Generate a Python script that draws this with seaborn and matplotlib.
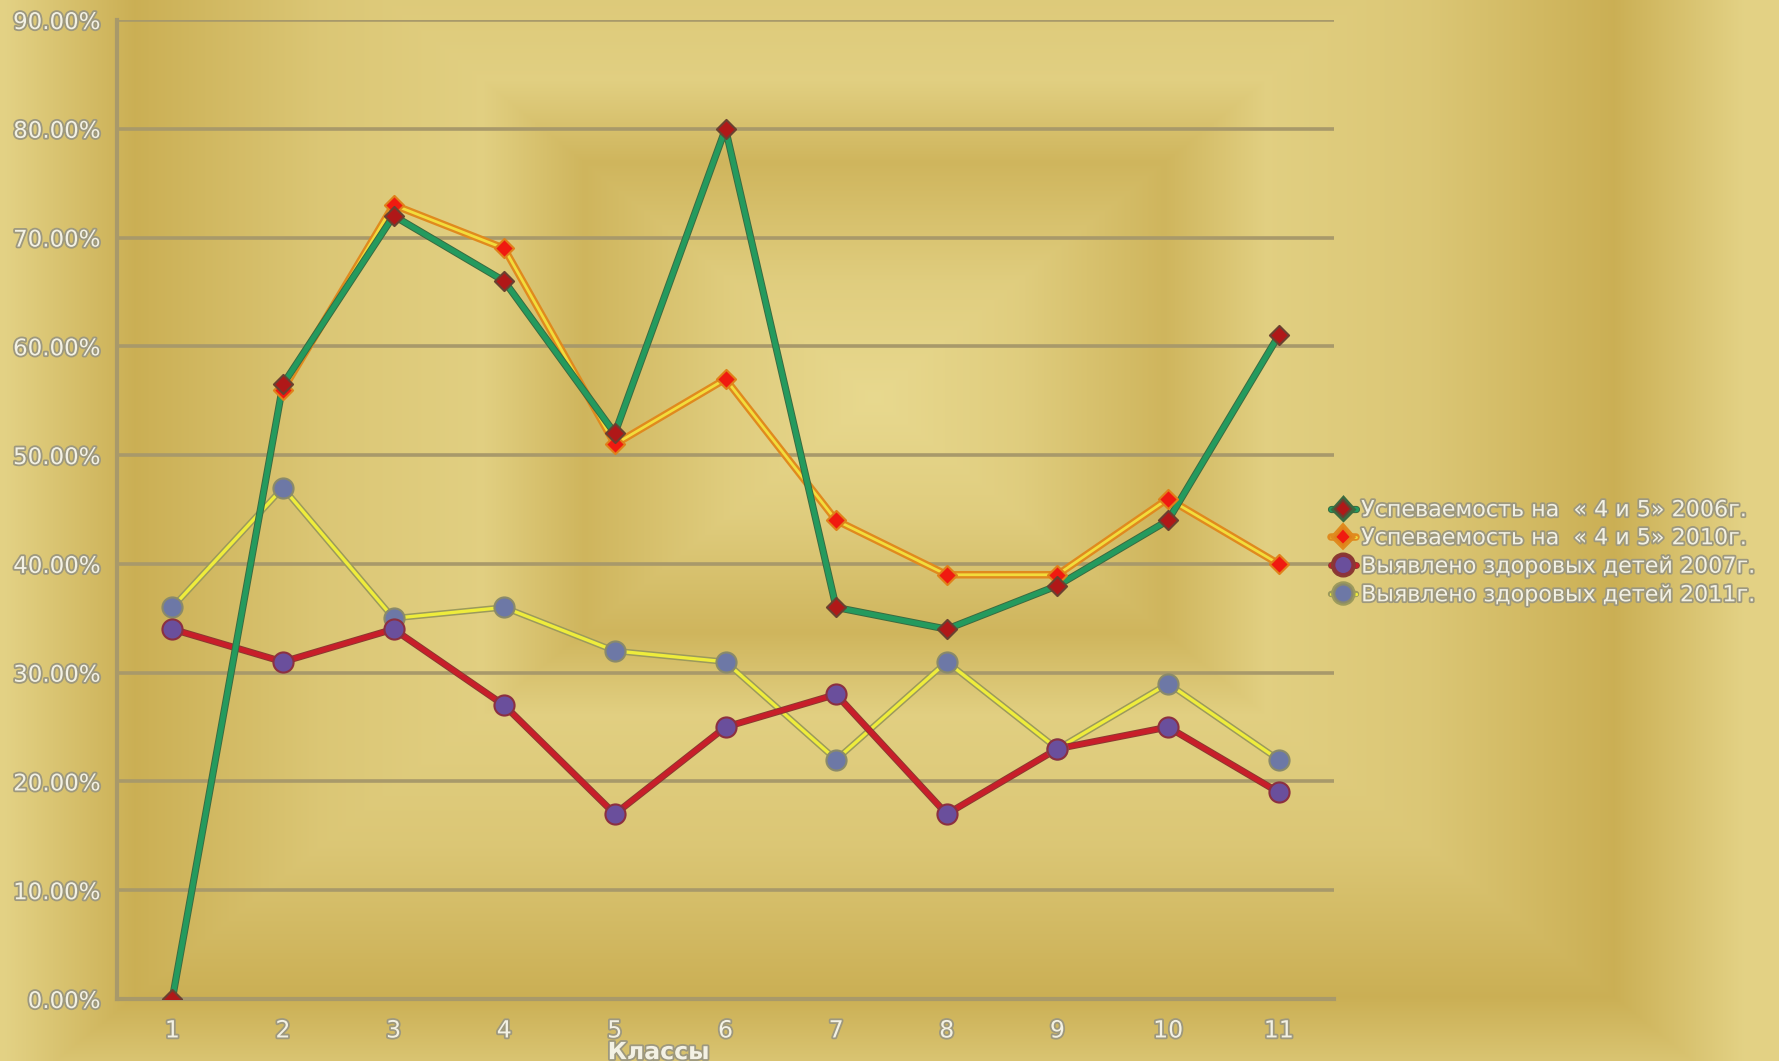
import numpy as np
import pandas as pd
import matplotlib
matplotlib.use("Agg")
import matplotlib.pyplot as plt
import matplotlib.patheffects as pe
from matplotlib.ticker import PercentFormatter, FixedLocator
from matplotlib.lines import Line2D
import seaborn as sns

# ---- data ----
classes = [1, 2, 3, 4, 5, 6, 7, 8, 9, 10, 11]
uspev_2006 = [0.00, 0.565, 0.72, 0.66, 0.52, 0.80, 0.36, 0.34, 0.38, 0.44, 0.61]
uspev_2010 = [np.nan, 0.56, 0.73, 0.69, 0.51, 0.57, 0.44, 0.39, 0.39, 0.46, 0.40]
zdorov_2007 = [0.34, 0.31, 0.34, 0.27, 0.17, 0.25, 0.28, 0.17, 0.23, 0.25, 0.19]
zdorov_2011 = [0.36, 0.47, 0.35, 0.36, 0.32, 0.31, 0.22, 0.31, 0.23, 0.29, 0.22]
labels = ["Успеваемость на  « 4 и 5» 2006г.",
          "Успеваемость на  « 4 и 5» 2010г.",
          "Выявлено здоровых детей 2007г.",
          "Выявлено здоровых детей 2011г."]
x_label = "Классы"

sns.set_theme(style="white")
plt.rcParams['font.family'] = ['DejaVu Sans']

W, H = 1779, 1061
fig = plt.figure(figsize=(W / 100, H / 100), dpi=100)

# ---- golden background (decorative) ----
bg = fig.add_axes([0, 0, 1, 1], zorder=-10)
yy, xx = np.mgrid[0:H, 0:W].astype(float)
cx, cy = 874.0, 397.0
d = np.maximum(np.abs(xx - cx) / 290.0, np.abs(yy - cy) / 235.0)
dp = [0.0, 0.5, 1.0, 1.35, 1.9, 2.55, 3.0, 5.0]
bp = [1.0, 0.75, 0.25, 0.8, 0.62, 0.12, 0.85, 0.9]
b = np.interp(d, dp, bp)
dark = np.array([0.78, 0.665, 0.30])
light = np.array([0.91, 0.85, 0.56])
img = dark[None, None, :] * (1 - b[..., None]) + light[None, None, :] * b[..., None]
bg.imshow(img, aspect="auto", extent=[0, 1, 0, 1], interpolation="bilinear")
bg.set_axis_off()

ax = fig.add_axes([117 / W, 1 - 999 / H, (1334 - 117) / W, (999 - 20) / H])
ax.set_facecolor("none")

df = pd.DataFrame({"cls": classes, "s1": uspev_2006, "s2": uspev_2010,
                   "s3": zdorov_2007, "s4": zdorov_2011})

grid_c = "#a8996a"

styles = {
    "s4": dict(color="#eeec3c", lw=2.4, edge="#9c9a5c", ew=4.6,
               marker="o", mfc="#6d78a6", mec="#8a8a6a", ms=210),
    "s3": dict(color="#c81e2a", lw=3.6, edge="#8a3a30", ew=5.0,
               marker="o", mfc="#6a4f9c", mec="#8c3040", ms=210),
    "s2": dict(color="#f2dc3c", lw=2.0, edge="#e08a1e", ew=5.4,
               marker="D", mfc="#f01a10", mec="#e0801a", ms=95),
    "s1": dict(color="#249a5e", lw=3.8, edge="#3b6a40", ew=5.2,
               marker="D", mfc="#b01818", mec="#6a4030", ms=95),
}

for key in ["s4", "s3", "s2", "s1"]:
    st = styles[key]
    sns.lineplot(data=df, x="cls", y=key, ax=ax, color=st["color"], lw=st["lw"],
                 estimator=None, sort=False, legend=False,
                 path_effects=[pe.Stroke(linewidth=st["ew"], foreground=st["edge"]), pe.Normal()])
    sns.scatterplot(data=df, x="cls", y=key, ax=ax, marker=st["marker"], s=st["ms"],
                    color=st["mfc"], edgecolor=st["mec"], linewidth=1.5,
                    legend=False, zorder=5)

ax.set_xlim(0.5, 11.5)
ax.set_ylim(0, 0.9)
ax.yaxis.set_major_locator(FixedLocator(np.arange(0, 0.91, 0.1)))
ax.yaxis.set_major_formatter(PercentFormatter(1.0, decimals=2))
ax.set_xticks(classes)
ax.set_xticks(np.arange(0.5, 11.6, 1.0), minor=True)
ax.grid(axis="y", color=grid_c, lw=2.6)
ax.grid(axis="x", visible=False)
ax.set_axisbelow(True)
for s in ["top", "right"]:
    ax.spines[s].set_visible(False)
for s in ["left", "bottom"]:
    ax.spines[s].set_color(grid_c)
    ax.spines[s].set_linewidth(3)

txt_c = "#f3f1e4"
stroke = [pe.withStroke(linewidth=2.6, foreground="#9d987e")]
ax.tick_params(axis="y", which="major", length=6, width=2, color=grid_c, direction="out",
               labelsize=16.5, labelcolor=txt_c, pad=6)
ax.tick_params(axis="x", which="major", length=0, labelsize=17, labelcolor=txt_c, pad=14)
ax.tick_params(axis="x", which="minor", length=8, width=2, color=grid_c, direction="out")
for lab in ax.get_yticklabels() + ax.get_xticklabels():
    lab.set_path_effects(stroke)

ax.set_ylabel("")
ax.set_xlabel(x_label, fontsize=17, color=txt_c, fontweight="bold")
ax.xaxis.label.set_path_effects(stroke)
ax.xaxis.set_label_coords(0.445, -0.042)

handles = []
for key in ["s1", "s2", "s3", "s4"]:
    st = styles[key]
    h = Line2D([0], [0], color=st["color"], lw=st["lw"], marker=st["marker"],
               markersize=np.sqrt(st["ms"]) * (0.85 if st["marker"] == "D" else 0.9),
               markerfacecolor=st["mfc"], markeredgecolor=st["mec"], markeredgewidth=1.5,
               path_effects=[pe.Stroke(linewidth=st["ew"], foreground=st["edge"]), pe.Normal()])
    handles.append(h)
leg = fig.legend(handles, labels, loc="center left", bbox_to_anchor=(0.737, 0.479),
                 frameon=False, handlelength=1.1, handletextpad=0.25, labelspacing=0.36,
                 fontsize=16)
for t in leg.get_texts():
    t.set_color(txt_c)
    t.set_path_effects(stroke)

fig.savefig("out.png", dpi=100)
